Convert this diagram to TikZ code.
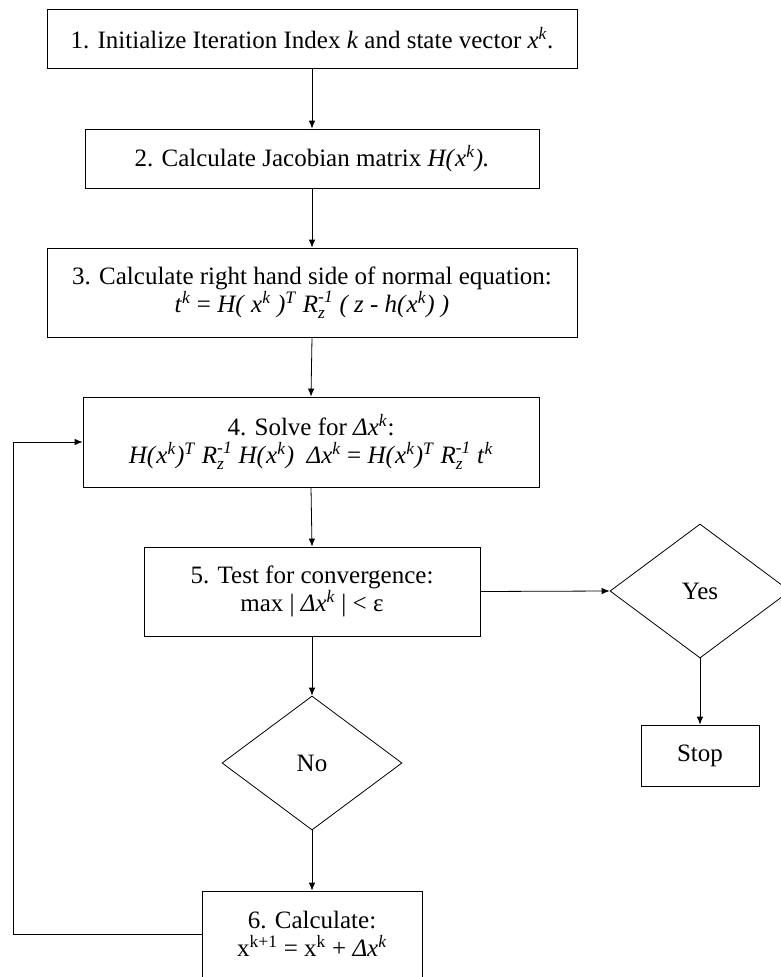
\documentclass[tikz,border=0pt]{standalone}
\usepackage{amsmath}
\usepackage{fontspec}
\setmainfont{Liberation Serif}
\usetikzlibrary{arrows.meta,shapes.geometric}
\newcommand{\Rzi}{$\textit{R}_{\textit{z}}^{\textit{-1}}$}
\newcommand{\supk}[1]{\textit{#1}\textsuperscript{\textit{k}}}
\begin{document}
\begin{tikzpicture}[x=1pt, y=-1pt,
        box/.style={draw, line width=0.8pt, align=center, inner sep=0pt,
            font=\fontsize{25}{28}\selectfont},
        decision/.style={draw, line width=0.8pt, diamond, inner sep=0pt,
            minimum width=180, minimum height=134, font=\fontsize{25}{28}\selectfont},
        arr/.style={draw, line width=0.8pt, -{Latex[length=8pt,width=6.5pt]}}]
    \useasboundingbox (0,0) rectangle (780,977);
    \node [box, minimum width=530, minimum height=59] (init) at (312,38.5)
        {1. Initialize Iteration Index \textit{k} and state vector \supk{x}.};
    \node [box, minimum width=454, minimum height=59] (jac) at (312,158.5)
        {2. Calculate Jacobian matrix \textit{H(}\supk{x}\textit{).}};
    \node [box, minimum width=530, minimum height=89] (rhs) at (312,292.5)
        {3. Calculate right hand side of normal equation:\\
         \supk{t} = \textit{H(} \supk{x} \textit{)}\textsuperscript{\textit{T}} \Rzi{}
         \textit{( z - h(}\supk{x}\textit{) )}};
    \node [box, minimum width=456, minimum height=90] (solve) at (311,442)
        {4. Solve for \supk{Δx}:\\
         \textit{H(}\supk{x}\textit{)}\textsuperscript{\textit{T}} \Rzi{}
         \textit{H(}\supk{x}\textit{)}\ \ \supk{Δx} =
         \textit{H(}\supk{x}\textit{)}\textsuperscript{\textit{T}} \Rzi{} \supk{t}};
    \node [box, minimum width=336, minimum height=89] (test) at (312,591.5)
        {5. Test for convergence:\\ max | \supk{Δx} | < ε};
    \node [decision] (yes) at (700,591) {Yes};
    \node [box, minimum width=118, minimum height=61] (stop) at (700,755.5) {Stop};
    \node [decision] (no) at (312,763) {No};
    \node [box, minimum width=220, minimum height=86] (upd) at (312,934)
        {6. Calculate:\\ x\textsuperscript{k+1} = x\textsuperscript{k} + \supk{Δx}};
    \coordinate (back) at (13,934);
    % main column
    \foreach \a/\b in {init/jac, jac/rhs, rhs/solve, solve/test, test/no, no/upd}
        \draw [arr] (\a.south) -- (\b.north);
    \draw [arr] (test.east) -- (yes.west);
    \draw [arr] (yes.south) -- (stop.north);
    % loop back to step 4
    \draw [arr] (upd.west) -- (back) |- (solve.west);
\end{tikzpicture}
\end{document}
